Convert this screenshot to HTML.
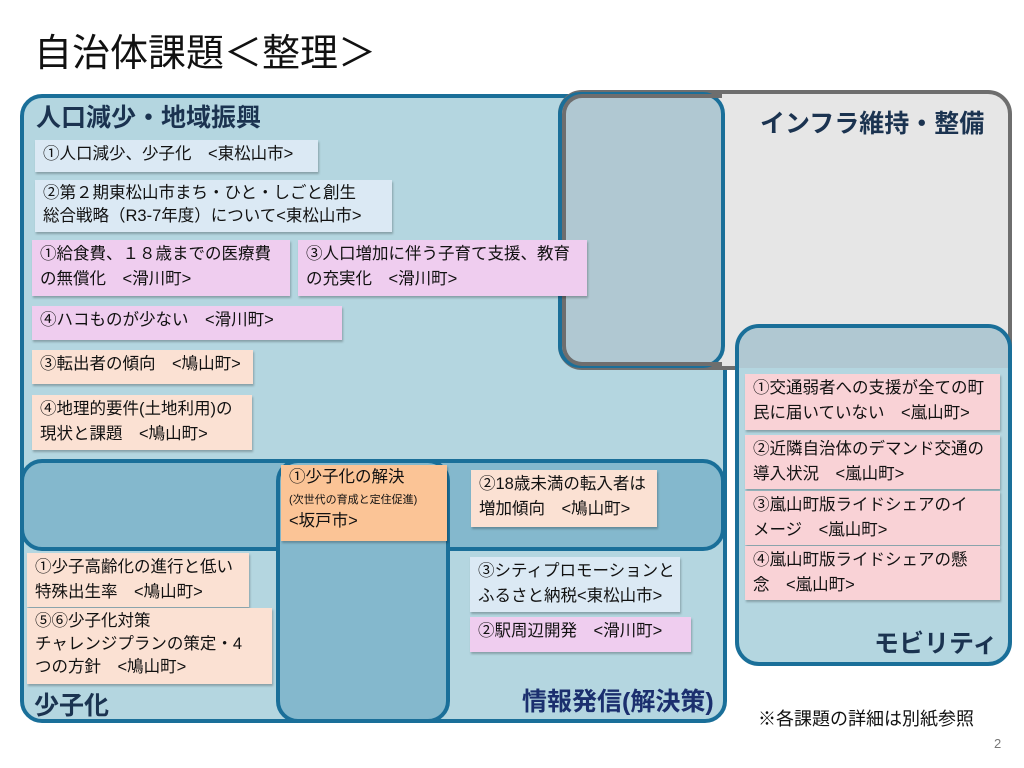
<!DOCTYPE html>
<html><head><meta charset="utf-8"><style>
body{margin:0;width:1024px;height:768px;background:#fff;position:relative;overflow:hidden;font-family:"Liberation Sans","Noto Sans CJK JP",sans-serif;}
div{position:absolute;box-sizing:border-box;}
.n{font-size:16.5px;line-height:25px;padding:2px 8px;color:#111;box-shadow:1px 2px 2px rgba(0,0,0,.25);white-space:nowrap;}
.b{background:#dbe9f4}.p{background:#efcdef}.c{background:#fbe1d3}.o{background:#fbc496}.m{background:#f9d2d6}
.h{font-weight:bold;color:#1b3350;font-size:25px}
</style></head><body>
<div style="left:34px;top:22px;font-size:38px;color:#111">自治体課題＜整理＞</div>
<div style="left:20px;top:94px;width:707px;height:629px;background:#b4d6e0;border:4px solid #1a6f99;border-radius:22px"></div>
<div style="left:558px;top:90px;width:454px;height:280px;background:#e6e6e6;border:4px solid #6e6e6e;border-radius:24px"></div>
<div style="left:558px;top:92px;width:167px;height:276px;background:#b0c8d2;border:4px solid #1a6f99;border-radius:22px;border-right:4px solid #1a6f99"></div>
<div style="left:562px;top:94px;width:160px;height:272px;border:4px solid #6e6e6e;border-right:none;border-radius:20px 0 0 20px;"></div>
<div style="left:735px;top:324px;width:277px;height:342px;background:#b4d6e0;border:4px solid #1a6f99;border-radius:24px"></div>
<div style="left:739px;top:328px;width:269px;height:40px;background:#b0c8d2;border-radius:20px 20px 0 0"></div>
<div style="left:20px;top:459px;width:705px;height:92px;background:#84b8cd;border:4px solid #1a6f99;border-radius:22px"></div>
<div style="left:276px;top:459px;width:174px;height:264px;background:#84b8cd;border:4px solid #1a6f99;border-radius:22px"></div>
<div class="h" style="left:36px;top:98px">人口減少・地域振興</div>
<div class="h" style="left:760px;top:104px">インフラ維持・整備</div>
<div class="h" style="left:874px;top:624px">モビリティ</div>
<div class="h" style="left:34px;top:686px">少子化</div>
<div class="h" style="left:522px;top:682px;color:#1b2f6e">情報発信(解決策)</div>
<div class="n b" style="left:35px;top:140px;width:283px;height:32px">①人口減少、少子化　&lt;東松山市&gt;</div>
<div class="n b" style="left:35px;top:180px;width:357px;height:52px;line-height:23px">②第２期東松山市まち・ひと・しごと創生<br>総合戦略（R3-7年度）について&lt;東松山市&gt;</div>
<div class="n p" style="left:32px;top:240px;width:258px;height:56px">①給食費、１８歳までの医療費<br>の無償化　&lt;滑川町&gt;</div>
<div class="n p" style="left:298px;top:240px;width:289px;height:56px">③人口増加に伴う子育て支援、教育<br>の充実化　&lt;滑川町&gt;</div>
<div class="n p" style="left:32px;top:306px;width:310px;height:34px">④ハコものが少ない　&lt;滑川町&gt;</div>
<div class="n c" style="left:32px;top:350px;width:221px;height:34px">③転出者の傾向　&lt;鳩山町&gt;</div>
<div class="n c" style="left:32px;top:395px;width:220px;height:55px">④地理的要件(土地利用)の<br>現状と課題　&lt;鳩山町&gt;</div>
<div class="n o" style="left:281px;top:465px;width:166px;height:76px;line-height:21px">①少子化の解決<br><span style="font-size:11px">(次世代の育成と定住促進)</span><br>&lt;坂戸市&gt;</div>
<div class="n c" style="left:471px;top:470px;width:186px;height:57px">②18歳未満の転入者は<br>増加傾向　&lt;鳩山町&gt;</div>
<div class="n c" style="left:27px;top:553px;width:222px;height:54px">①少子高齢化の進行と低い<br>特殊出生率　&lt;鳩山町&gt;</div>
<div class="n c" style="left:27px;top:608px;width:245px;height:76px;line-height:23px">⑤⑥少子化対策<br>チャレンジプランの策定・4<br>つの方針　&lt;鳩山町&gt;</div>
<div class="n b" style="left:470px;top:557px;width:210px;height:55px">③シティプロモーションと<br>ふるさと納税&lt;東松山市&gt;</div>
<div class="n p" style="left:470px;top:617px;width:221px;height:35px">②駅周辺開発　&lt;滑川町&gt;</div>
<div class="n m" style="left:745px;top:374px;width:255px;height:56px">①交通弱者への支援が全ての町<br>民に届いていない　&lt;嵐山町&gt;</div>
<div class="n m" style="left:745px;top:435px;width:255px;height:54px">②近隣自治体のデマンド交通の<br>導入状況　&lt;嵐山町&gt;</div>
<div class="n m" style="left:745px;top:491px;width:255px;height:54px">③嵐山町版ライドシェアのイ<br>メージ　&lt;嵐山町&gt;</div>
<div class="n m" style="left:745px;top:546px;width:255px;height:54px">④嵐山町版ライドシェアの懸<br>念　&lt;嵐山町&gt;</div>
<div style="left:758px;top:705px;font-size:18px;color:#111">※各課題の詳細は別紙参照</div>
<div style="left:994px;top:736px;font-size:13px;color:#777">2</div>
</body></html>
